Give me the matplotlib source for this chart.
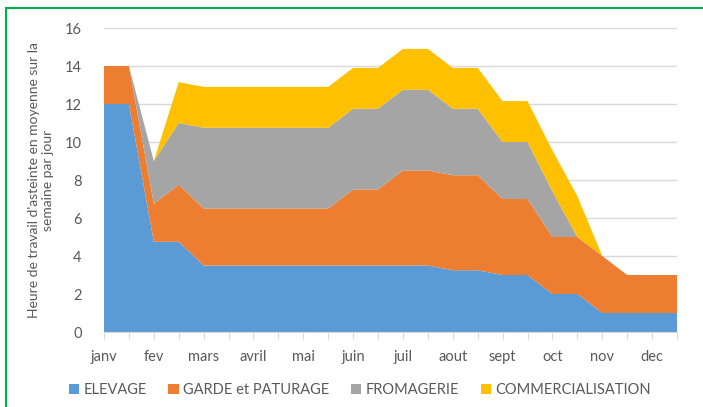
import matplotlib.pyplot as plt
from matplotlib.patches import Rectangle

# half-month points, labels on the first point of each month
months = ['janv', 'fev', 'mars', 'avril', 'mai', 'juin',
          'juil', 'aout', 'sept', 'oct', 'nov', 'dec']
x_labels = [m for month in months for m in (month, '')]

elevage = [12, 12, 4.75, 4.75, 3.5, 3.5, 3.5, 3.5, 3.5, 3.5, 3.5, 3.5,
           3.5, 3.5, 3.25, 3.25, 3, 3, 2, 2, 1, 1, 1, 1]
garde = [2, 2, 2, 3, 3, 3, 3, 3, 3, 3, 4, 4,
         5, 5, 5, 5, 4, 4, 3, 3, 3, 2, 2, 2]
fromagerie = [0, 0, 2.25, 3.25, 4.25, 4.25, 4.25, 4.25, 4.25, 4.25, 4.25, 4.25,
              4.25, 4.25, 3.5, 3.5, 3, 3, 2.4, 0, 0, 0, 0, 0]
commercialisation = [0, 0, 0, 2.15, 2.15, 2.15, 2.15, 2.15, 2.15, 2.15, 2.15, 2.15,
                     2.15, 2.15, 2.15, 2.15, 2.15, 2.15, 2.15, 2.15, 0, 0, 0, 0]

series = ['ELEVAGE', 'GARDE et PATURAGE', 'FROMAGERIE', 'COMMERCIALISATION']
colors = ['#5B9BD5', '#ED7D31', '#A5A5A5', '#FFC000']

plt.rcParams['font.family'] = ['Lato', 'DejaVu Sans']
text_col = '#595959'

fig = plt.figure(figsize=(7.03, 4.07), dpi=100)
ax = fig.add_axes([104 / 703, 1 - 332 / 407, 573 / 703, 304 / 407])

x = list(range(len(x_labels)))
ax.stackplot(x, elevage, garde, fromagerie, commercialisation,
             colors=colors, labels=series, linewidth=0, zorder=2)

ax.set_xlim(0, len(x) - 1)
ax.set_ylim(0, 16)
ax.set_yticks(range(0, 17, 2))
ax.set_xticks(x)
ax.set_xticklabels(x_labels)
ax.grid(axis='y', color='#D9D9D9', linewidth=1, zorder=0)
for side in ['top', 'right', 'left']:
    ax.spines[side].set_visible(False)
ax.spines['bottom'].set_color('#D9D9D9')
ax.tick_params(axis='x', length=5, color='#D9D9D9', labelsize=10.5,
               labelcolor=text_col, pad=8)
ax.tick_params(axis='y', length=0, labelsize=10.5, labelcolor=text_col, pad=16)

ax.set_ylabel("Heure de travail d'asteinte en moyenne sur la\nsemaine par jour",
              fontsize=10, color=text_col, labelpad=8, linespacing=1.15)

fig.legend(loc='center', bbox_to_anchor=(360 / 703, 1 - 390 / 407), ncol=4,
           frameon=False, fontsize=10.5, handlelength=0.7, handleheight=0.7,
           handletextpad=0.3, columnspacing=1.5, labelcolor=text_col)

# green frame around the chart area
fig.patches.append(Rectangle((6 / 703, -0.05), 1.2, 1 - 8 / 407 + 0.05,
                             transform=fig.transFigure, fill=False,
                             edgecolor='#00B050', linewidth=1.5))

fig.savefig('out.png', dpi=100)
